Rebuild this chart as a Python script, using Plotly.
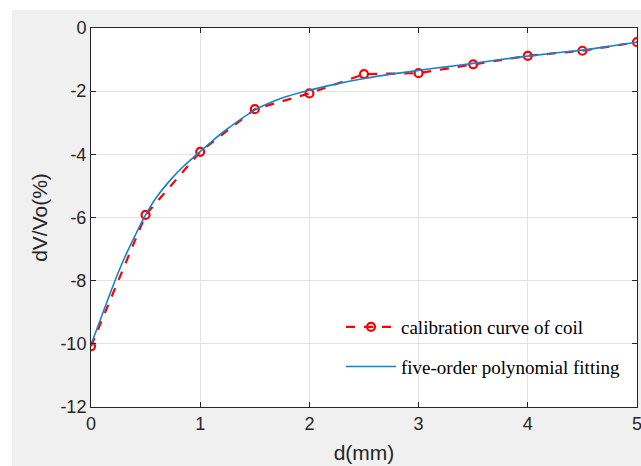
import plotly.graph_objects as go

# Data
d_points = [0, 0.5, 1, 1.5, 2, 2.5, 3, 3.5, 4, 4.5, 5]
dv_points = [-10.08, -5.92, -3.92, -2.57, -2.07, -1.46, -1.43, -1.15, -0.88, -0.72, -0.45]

d_fit = [0, 0.1, 0.22, 0.3, 0.4, 0.5, 0.6, 0.73, 0.85, 0.97, 1.1, 1.25, 1.5, 1.75, 2,
         2.25, 2.5, 2.75, 3, 3.25, 3.5, 3.75, 4, 4.25, 4.5, 4.75, 5]
dv_fit = [-10.03, -9.1, -8.0, -7.33, -6.6, -5.92, -5.36, -4.8, -4.37, -4.0, -3.61, -3.19,
          -2.6, -2.22, -1.97, -1.77, -1.6, -1.46, -1.34, -1.23, -1.12, -1.0, -0.89, -0.79,
          -0.7, -0.58, -0.45]

x_ticks = [0, 1, 2, 3, 4, 5]
y_ticks = [0, -2, -4, -6, -8, -10, -12]

legend_names = ["calibration curve of coil", "five-order polynomial fitting"]

W, H = 641, 466
L, R, T, B = 91, 4, 28, 59
pw, ph = W - L - R, H - T - B


def px_x(p):
    return (p - L) / pw


def px_y(p):
    return (H - B - p) / ph


fig = go.Figure()
fig.add_trace(go.Scatter(
    x=d_points, y=dv_points, mode="lines+markers", name=legend_names[0],
    line=dict(color="#ff0000", width=2.2, dash="dash"),
    marker=dict(symbol="circle-open", size=8, color="#ff0000", line=dict(width=2.2, color="#ff0000")),
    legendgroup="a",
))
fig.add_trace(go.Scatter(
    x=d_fit, y=dv_fit, mode="lines", name=legend_names[1],
    line=dict(color="#1384c8", width=1.6, shape="spline", smoothing=1.0),
    legendgroup="b",
))

axis_common = dict(
    showgrid=True, gridcolor="#e3e3e3", gridwidth=1,
    showline=True, linecolor="#262626", linewidth=1, mirror="ticks",
    ticks="inside", ticklen=5, tickcolor="#262626",
    tickfont=dict(family="Liberation Sans, Arial", size=18, color="#262626"),
    zeroline=False, ticklabeloverflow="allow",
)

fig.update_layout(
    width=W, height=H,
    margin=dict(l=L, r=R, t=T, b=B),
    paper_bgcolor="#ffffff", plot_bgcolor="#ffffff",
    xaxis=dict(range=[0, 5], tickvals=x_ticks, ticktext=[str(v) for v in x_ticks],
               title=dict(text="d(mm)", font=dict(family="Liberation Sans, Arial", size=21, color="#262626"), standoff=12),
               automargin="height",
               **axis_common),
    yaxis=dict(range=[-12, 0], tickvals=y_ticks, ticktext=[str(v) for v in y_ticks],
               title=dict(text="dV/Vo(%)", font=dict(family="Liberation Sans, Arial", size=21, color="#262626"), standoff=7),
               automargin="width",
               **axis_common),
    showlegend=True,
    legend=dict(
        x=px_x(341), y=px_y(308), xanchor="left", yanchor="top",
        bgcolor="rgba(0,0,0,0)", borderwidth=0,
        font=dict(family="Liberation Serif, Times New Roman", size=19, color="#000000"),
        tracegroupgap=12, traceorder="grouped", itemwidth=50,
    ),
    shapes=[
        dict(type="rect", xref="paper", yref="paper",
             x0=px_x(12), x1=px_x(W + 10), y0=px_y(10), y1=px_y(H + 10),
             fillcolor="#f0f0f0", line=dict(width=0), layer="below"),
        dict(type="rect", xref="paper", yref="paper",
             x0=0, x1=1, y0=0, y1=1,
             fillcolor="#ffffff", line=dict(width=0), layer="below"),
    ],
)

fig.write_html("out.html")
